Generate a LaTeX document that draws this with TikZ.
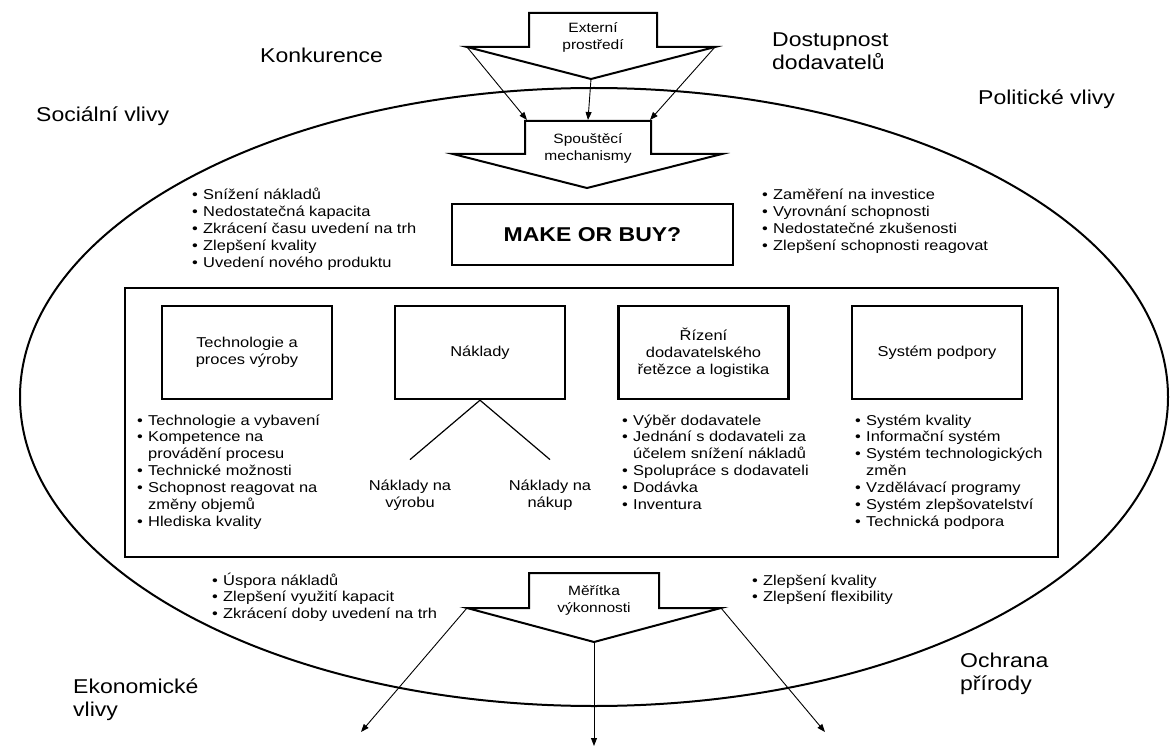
\documentclass[tikz,border=0pt]{standalone}
\usepackage{fontspec}
\setmainfont{Liberation Sans}[FakeStretch=1.15]
\usetikzlibrary{arrows.meta}

\newcommand\bodysize{\fontsize{14.3pt}{16.9pt}\selectfont}
\newcommand\regionsize{\fontsize{20pt}{23pt}\selectfont}
\newcommand\flowsize{\fontsize{13.5pt}{17pt}\selectfont}
\newcommand\bul{\makebox[11pt][l]{•}}
\newcommand\cont{\hspace*{11pt}}

\tikzset{
  outline/.style={line width=2pt},
  topic/.style={draw, line width=2.4pt, minimum width=170pt, minimum height=93pt,
    align=center, font=\bodysize, inner sep=2pt},
  itemline/.style={anchor=base west, inner sep=0pt, font=\bodysize},
  region/.style={anchor=base west, inner sep=0pt, font=\regionsize},
  flowtext/.style={align=center, inner sep=0pt, font=\flowsize},
  thinarrow/.style={line width=0.9pt, -{Triangle[length=8pt,width=6pt]}},
  blockarrow/.style={draw, line width=2pt, line join=miter, fill=white},
}

% one node per printed line; b = bulleted line, c = continuation line
\newcommand\itemlines[4]{%
  \foreach \k/\t [count=\i] in {#4} {
    \node[itemline] (#1-\i) at (#2, {#3+(\i-1)*16.9}) {\if b\k\bul\else\cont\fi\t};
  }%
}

\begin{document}
\begin{tikzpicture}[x=1pt, y=-1pt]
\useasboundingbox (0,0) rectangle (1176,749);

% outer environment
\draw[outline] (594,397) ellipse [x radius=574pt, y radius=309pt];

% environment labels
\node[region] (konk) at (260,63) {Konkurence};
\node[region] (dost1) at (772,47) {Dostupnost};
\node[region] (dost2) at (772,70) {dodavatelů};
\node[region] (soc) at (36,122) {Sociální vlivy};
\node[region] (pol) at (978,105) {Politické vlivy};
\node[region] (eko1) at (73,693) {Ekonomické};
\node[region] (eko2) at (73,716) {vlivy};
\node[region] (och1) at (960,667) {Ochrana};
\node[region] (och2) at (960,690) {přírody};

% block arrow: external environment
\draw[blockarrow] (529,13) -- (657,13) -- (657,47) -- (715,47) -- (591,79)
  -- (467,47) -- (529,47) -- cycle;
\coordinate (ext-l) at (467,47);
\coordinate (ext-tip) at (591,79);
\coordinate (ext-r) at (715,47);
\node[flowtext] (ext) at (593,37) {Externí\\prostředí};

% block arrow: triggers
\draw[blockarrow] (525,121) -- (651,121) -- (651,154) -- (722,154) -- (587,188)
  -- (453,154) -- (525,154) -- cycle;
\coordinate (trg-l) at (527,120);
\coordinate (trg-c) at (588,120);
\coordinate (trg-r) at (650,120);
\node[flowtext] (trg) at (588,148) {Spouštěcí\\mechanismy};

\draw[thinarrow] (ext-l) -- (trg-l);
\draw[thinarrow] (ext-tip) -- (trg-c);
\draw[thinarrow] (ext-r) -- (trg-r);

% central question
\node[draw, line width=2.4pt, minimum width=281pt, minimum height=61pt,
  font=\fontsize{20pt}{24pt}\selectfont\bfseries] (mob) at (592.5,234.5) {MAKE OR BUY?};

\itemlines{why}{192}{200}{b/Snížení nákladů, b/Nedostatečná kapacita,
  b/Zkrácení času uvedení na trh, b/Zlepšení kvality, b/Uvedení nového produktu}
\itemlines{risk}{762}{200}{b/Zaměření na investice, b/Vyrovnání schopnosti,
  b/Nedostatečné zkušenosti, b/Zlepšení schopnosti reagovat}

% decision areas
\node[draw, line width=2pt, minimum width=933pt, minimum height=269pt] (panel) at (591.5,422.5) {};

\node[topic] (tech) at (247,352.5) {Technologie a\\proces výroby};
\node[topic] (cost) at (480,352.5) {Náklady};
\node[topic] (scm) at (703.5,352.5) {Řízení\\dodavatelského\\řetězce a logistika};
\node[topic] (supp) at (937,352.5) {Systém podpory};

\itemlines{tech}{137}{425}{b/Technologie a vybavení, b/Kompetence na,
  c/provádění procesu, b/Technické možnosti, b/Schopnost reagovat na,
  c/změny objemů, b/Hlediska kvality}

\node[flowtext, font=\bodysize] (cprod) at (410,495) {Náklady na\\výrobu};
\node[flowtext, font=\bodysize] (cbuy) at (550,495) {Náklady na\\nákup};
\draw[line width=1.2pt] (cost.south) -- ([yshift=20pt]cprod.north);
\draw[line width=1.2pt] (cost.south) -- ([yshift=20pt]cbuy.north);

\itemlines{scm}{622}{425}{b/Výběr dodavatele, b/Jednání s dodavateli za,
  c/účelem snížení nákladů, b/Spolupráce s dodavateli, b/Dodávka, b/Inventura}
\itemlines{supp}{855}{425}{b/Systém kvality, b/Informační systém,
  b/Systém technologických, c/změn, b/Vzdělávací programy,
  b/Systém zlepšovatelství, b/Technická podpora}

% block arrow: performance measures
\draw[blockarrow] (529,573) -- (659,573) -- (659,608) -- (721,608) -- (594,642)
  -- (467,608) -- (529,608) -- cycle;
\coordinate (perf-l) at (467,608);
\coordinate (perf-tip) at (594,642);
\coordinate (perf-r) at (721,608);
\node[flowtext] (perf) at (594,600) {Měřítka\\výkonnosti};

\coordinate (out-l) at (361,732);
\coordinate (out-c) at (594,746);
\coordinate (out-r) at (825,732);
\draw[thinarrow] (perf-l) -- (out-l);
\draw[thinarrow] (perf-tip) -- (out-c);
\draw[thinarrow] (perf-r) -- (out-r);

\itemlines{gain}{212}{585}{b/Úspora nákladů, b/Zlepšení využití kapacit,
  b/Zkrácení doby uvedení na trh}
\itemlines{qual}{752}{585}{b/Zlepšení kvality, b/Zlepšení flexibility}

\end{tikzpicture}
\end{document}
